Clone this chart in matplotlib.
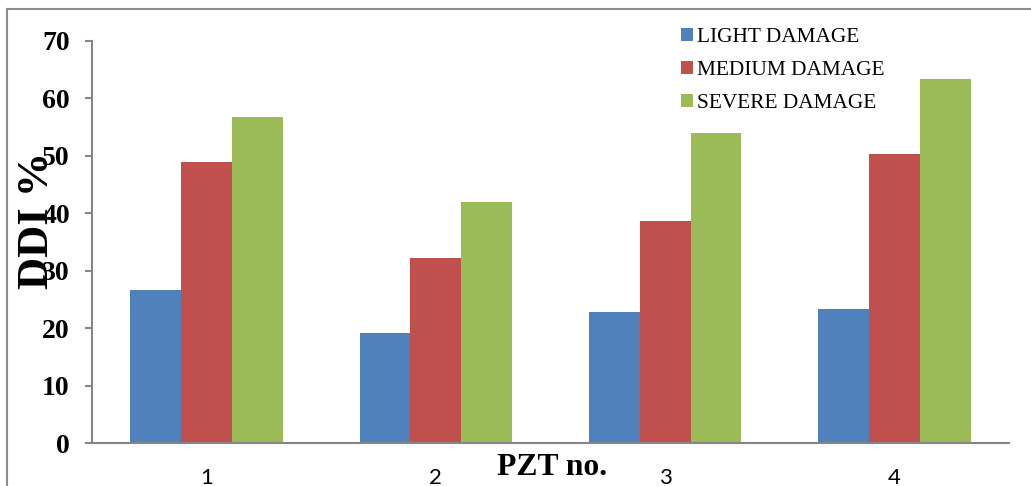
import matplotlib
matplotlib.use("Agg")
import matplotlib.pyplot as plt
import numpy as np
from matplotlib.lines import Line2D

categories = ["1", "2", "3", "4"]
series_names = ["LIGHT DAMAGE", "MEDIUM DAMAGE", "SEVERE DAMAGE"]
light = [26.6, 19.1, 22.8, 23.3]
medium = [49.0, 32.2, 38.7, 50.3]
severe = [56.8, 41.9, 54.0, 63.4]
colors = ["#4F81BD", "#C0504D", "#9BBB59"]
yticks = [0, 10, 20, 30, 40, 50, 60, 70]

W, H = 1031, 486
fig = plt.figure(figsize=(W / 100, H / 100), dpi=100)
ax = fig.add_axes([92 / W, 1 - 443 / H, (1009 - 92) / W, (443 - 41) / H])

x = np.arange(len(categories))
bw = 0.222
for i, (vals, name, c) in enumerate(zip([light, medium, severe], series_names, colors)):
    ax.bar(x + (i - 1) * bw, vals, width=bw, color=c, label=name, zorder=2)

ax.set_xlim(-0.5, len(categories) - 0.5)
ax.set_ylim(0, 70)
ax.set_yticks(yticks)
ax.set_yticklabels([str(v) for v in yticks], fontfamily="Liberation Serif",
                   fontweight="bold", fontsize=20)
ax.set_xticks(x)
ax.set_xticklabels(categories, fontfamily="Lato", fontsize=16)
ax.tick_params(axis="x", length=0, pad=18)
ax.tick_params(axis="y", length=5, width=1.5, color="#868686", pad=11)
for s in ["top", "right"]:
    ax.spines[s].set_visible(False)
for s in ["left", "bottom"]:
    ax.spines[s].set_color("#868686")
    ax.spines[s].set_linewidth(1.5)

fig.text(37 / W, 1 - 220 / H, "DDI %", rotation=90, ha="center", va="center",
         fontfamily="Liberation Serif", fontweight="bold", fontsize=32)
fig.text(552 / W, 1 - 467 / H, "PZT no.", ha="center", va="center",
         fontfamily="Liberation Serif", fontweight="bold", fontsize=22.8)

leg = fig.legend(loc="upper left", bbox_to_anchor=(681 / W, 1 - 28 / H),
                 frameon=False, prop={"family": "Liberation Serif", "size": 15.4},
                 handlelength=0.55, handleheight=0.55, handletextpad=0.18,
                 labelspacing=0.66, borderpad=0, borderaxespad=0)

fig.add_artist(Line2D([7 / W, 1], [1 - 9 / H, 1 - 9 / H], transform=fig.transFigure,
                      color="#8c8c8c", lw=1.5))
fig.add_artist(Line2D([7 / W, 7 / W], [0, 1 - 9 / H], transform=fig.transFigure,
                      color="#8c8c8c", lw=1.5))

fig.savefig("out.png", dpi=100)
